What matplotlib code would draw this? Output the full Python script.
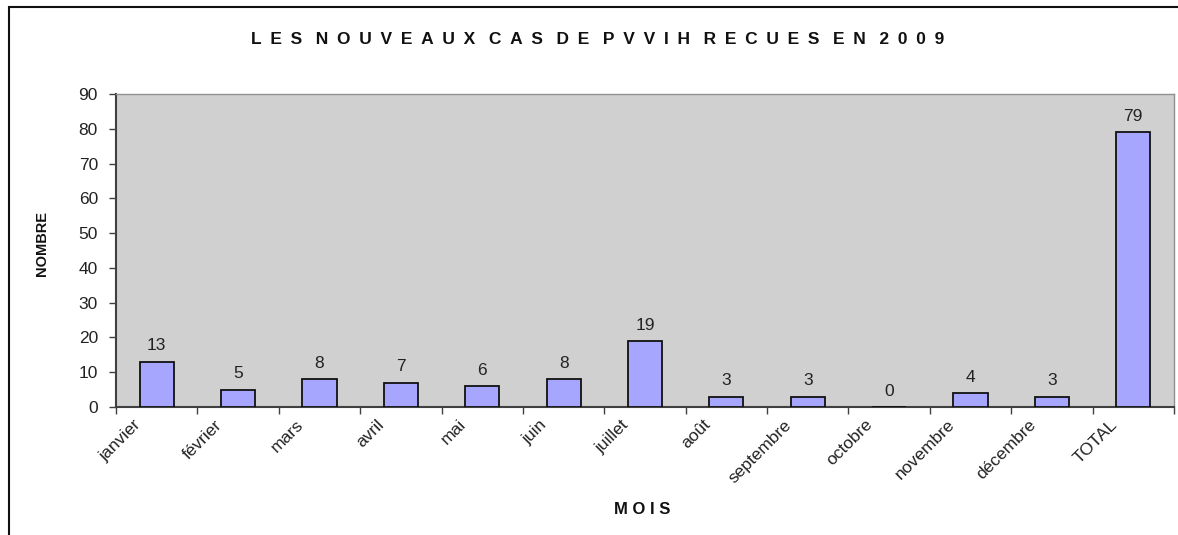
import matplotlib
matplotlib.use("Agg")
import matplotlib.pyplot as plt
import matplotlib.transforms as mtransforms
from matplotlib.patches import Rectangle
import numpy as np

plt.rcParams['font.family'] = ['Liberation Sans', 'DejaVu Sans']

categories = ["janvier", "février", "mars", "avril", "mai", "juin", "juillet",
              "août", "septembre", "octobre", "novembre", "décembre", "TOTAL"]
values = [13, 5, 8, 7, 6, 8, 19, 3, 3, 0, 4, 3, 79]
title = "LES NOUVEAUX CAS DE PVVIH RECUES EN 2009"
xlabel = "MOIS"
ylabel = "NOMBRE"
yticks = [0, 10, 20, 30, 40, 50, 60, 70, 80, 90]

EN = "\u2002"


def spaced(s, sep=EN, wordsep=EN + " "):
    return wordsep.join(sep.join(w) for w in s.split(" "))


W, H = 1178, 535
fig = plt.figure(figsize=(W / 100, H / 100), dpi=100)
ax = fig.add_axes([116 / W, 1 - 407 / H, (1174 - 116) / W, (407 - 94) / H])

ax.set_facecolor("#D0D0D0")
x = np.arange(len(categories))
ax.bar(x, values, width=0.42, color="#A6A6FF", edgecolor="#111111", linewidth=1.3, zorder=3)
ax.set_xlim(-0.5, len(categories) - 0.5)
ax.set_ylim(0, 90)

for xi, v in zip(x, values):
    ax.annotate(str(v), (xi, v), xytext=(0, 6), textcoords="offset points",
                ha="center", va="bottom", fontsize=12.5, color="#222222")

ax.set_yticks(yticks)
ax.set_yticklabels([str(t) for t in yticks], fontsize=12.5, color="#222222")
ax.tick_params(axis="y", direction="out", length=5, width=1, color="#404040", pad=8)

# ticks at category boundaries
ax.set_xticks(np.arange(len(categories) + 1) - 0.5)
ax.set_xticklabels([])
ax.tick_params(axis="x", direction="out", length=5, width=1, color="#404040")

offset = mtransforms.ScaledTranslation(-24 / 100, -10 / 100, fig.dpi_scale_trans)
for xi, lab in zip(x, categories):
    ax.text(xi, 0, lab, transform=ax.get_xaxis_transform() + offset,
            rotation=45, rotation_mode="anchor", ha="right", va="top",
            fontsize=12.5, color="#222222")

for s in ["left", "bottom"]:
    ax.spines[s].set_color("#404040")
    ax.spines[s].set_linewidth(1.5)
for s in ["top", "right"]:
    ax.spines[s].set_color("#909090")
    ax.spines[s].set_linewidth(1)

fig.text(598 / W, 1 - 40 / H, spaced(title), ha="center", va="center",
         fontsize=12.5, fontweight="bold", color="#111111")
fig.text(642 / W, 1 - 510 / H, spaced(xlabel, " "), ha="center", va="center",
         fontsize=12, fontweight="bold", color="#111111")
fig.text(42 / W, 1 - 243 / H, ylabel, ha="center", va="center", rotation=90,
         fontsize=10.5, fontweight="bold", color="#111111")

fig.patches.append(Rectangle((9 / W, -0.1), 1.2, 1 - 7 / H + 0.1, transform=fig.transFigure,
                             fill=False, edgecolor="#111111", linewidth=1.5))

fig.savefig("out.png", dpi=100)
